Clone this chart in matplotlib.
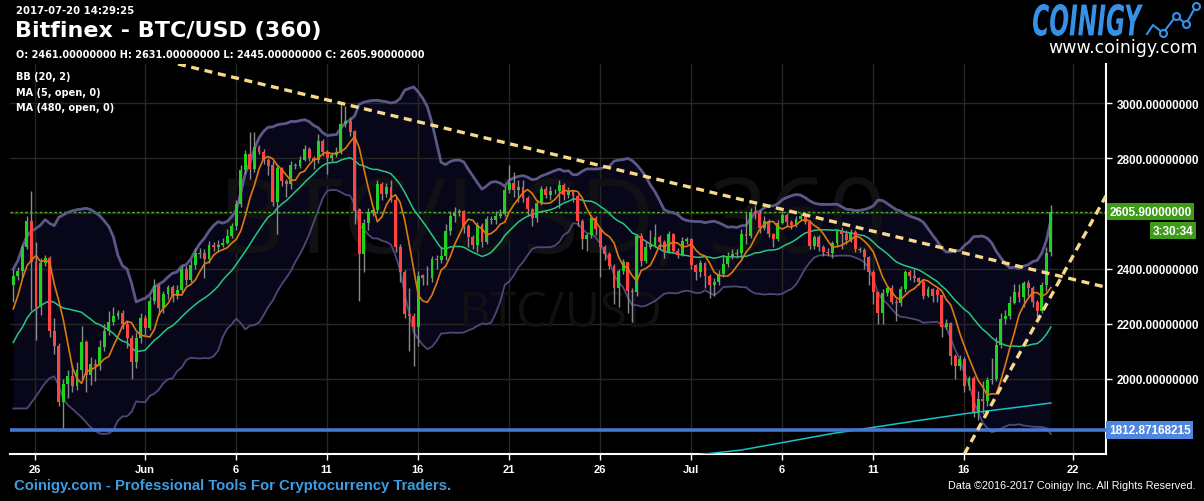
# -*- coding: utf-8 -*-

import matplotlib
matplotlib.use('Agg')
import matplotlib.pyplot as plt
import matplotlib.dates as mdates
import matplotlib.transforms as mtransforms
from matplotlib.textpath import TextPath
from matplotlib.patches import PathPatch
from matplotlib.font_manager import FontProperties
from matplotlib.lines import Line2D
import numpy as np
import pandas as pd

# 6h candles, BTC/USD Bitfinex
opens = [
    2340, 2374, 2391, 2477, 2571, 2422, 2261, 2420, 2438, 2174,
    2119, 1916, 1980, 2010, 1974, 2030, 2131, 2013, 2053, 2044,
    2116, 2174, 2204, 2228, 2237, 2198, 2146, 2061, 2146, 2219,
    2182, 2282, 2338, 2256, 2307, 2331, 2299, 2322, 2400, 2358,
    2414, 2452, 2458, 2435, 2484, 2478, 2486, 2494, 2519, 2553,
    2634, 2758, 2816, 2760, 2840, 2825, 2796, 2776, 2640, 2764,
    2719, 2707, 2776, 2772, 2796, 2834, 2800, 2795, 2864, 2824,
    2800, 2812, 2824, 2925, 2937, 2901, 2616, 2452, 2565, 2604,
    2613, 2707, 2670, 2698, 2650, 2477, 2388, 2234, 2226, 2186,
    2376, 2364, 2365, 2434, 2432, 2446, 2537, 2592, 2604, 2608,
    2556, 2515, 2486, 2559, 2497, 2580, 2576, 2592, 2598, 2685,
    2711, 2685, 2697, 2658, 2616, 2582, 2637, 2689, 2667, 2680,
    2682, 2705, 2669, 2680, 2663, 2573, 2507, 2520, 2585, 2543,
    2477, 2453, 2410, 2328, 2390, 2422, 2319, 2316, 2517, 2428,
    2480, 2485, 2513, 2497, 2461, 2525, 2465, 2449, 2500, 2507,
    2413, 2388, 2420, 2374, 2340, 2352, 2380, 2416, 2444, 2452,
    2456, 2525, 2519, 2606, 2603, 2549, 2572, 2525, 2507, 2564,
    2594, 2568, 2558, 2580, 2590, 2568, 2483, 2513, 2477, 2459,
    2456, 2493, 2537, 2525, 2503, 2531, 2471, 2468, 2441, 2386,
    2313, 2240, 2311, 2328, 2279, 2273, 2325, 2386, 2372, 2364,
    2352, 2299, 2325, 2321, 2302, 2188, 2202, 2081, 2044, 2071,
    1974, 2001, 1879, 1927, 1919, 1996, 1998, 2122, 2216, 2228,
    2275, 2313, 2295, 2347, 2328, 2279, 2247, 2340, 2461,
]
highs = [
    2398, 2405, 2490, 2590, 2683, 2495, 2440, 2450, 2445, 2220,
    2130, 2000, 2030, 2050, 2060, 2190, 2140, 2080, 2070, 2140,
    2200, 2246, 2260, 2250, 2250, 2210, 2160, 2170, 2240, 2230,
    2300, 2362, 2345, 2320, 2340, 2340, 2340, 2410, 2410, 2430,
    2475, 2475, 2470, 2500, 2495, 2505, 2510, 2545, 2565, 2650,
    2776, 2830, 2897, 2895, 2850, 2835, 2800, 2790, 2780, 2770,
    2725, 2790, 2785, 2810, 2850, 2840, 2810, 2890, 2870, 2830,
    2825, 2840, 2998, 2990, 2950, 2905, 2620, 2580, 2620, 2625,
    2720, 2715, 2710, 2720, 2660, 2490, 2395, 2330, 2240, 2390,
    2380, 2410, 2445, 2450, 2480, 2560, 2610, 2625, 2618, 2612,
    2560, 2520, 2570, 2565, 2590, 2590, 2610, 2615, 2700, 2776,
    2750, 2720, 2720, 2665, 2620, 2650, 2700, 2700, 2700, 2690,
    2720, 2712, 2695, 2685, 2670, 2580, 2530, 2595, 2590, 2550,
    2485, 2460, 2415, 2400, 2435, 2425, 2330, 2525, 2530, 2500,
    2540, 2562, 2520, 2505, 2535, 2530, 2475, 2515, 2515, 2512,
    2415, 2430, 2425, 2380, 2365, 2395, 2450, 2460, 2470, 2470,
    2545, 2600, 2620, 2630, 2612, 2590, 2580, 2530, 2575, 2610,
    2600, 2575, 2590, 2600, 2600, 2575, 2520, 2520, 2485, 2475,
    2500, 2545, 2550, 2540, 2545, 2540, 2480, 2475, 2445, 2395,
    2320, 2325, 2335, 2340, 2290, 2335, 2395, 2395, 2400, 2370,
    2360, 2335, 2330, 2330, 2305, 2215, 2205, 2090, 2085, 2080,
    2010, 2010, 1955, 1990, 2005, 2075, 2150, 2240, 2250, 2300,
    2345, 2345, 2355, 2360, 2335, 2285, 2350, 2480, 2631,
]
lows = [
    2277, 2360, 2370, 2470, 2250, 2140, 2230, 2410, 2150, 2090,
    1900, 1813, 1930, 1950, 1960, 2000, 1950, 1975, 1990, 2030,
    2100, 2160, 2195, 2215, 2180, 2110, 2000, 2040, 2130, 2160,
    2175, 2270, 2230, 2240, 2290, 2280, 2290, 2310, 2340, 2350,
    2400, 2440, 2365, 2420, 2465, 2460, 2480, 2490, 2510, 2540,
    2625, 2745, 2725, 2750, 2815, 2780, 2740, 2628, 2525, 2700,
    2659, 2690, 2760, 2765, 2790, 2790, 2760, 2785, 2810, 2743,
    2790, 2805, 2815, 2915, 2880, 2560, 2283, 2388, 2540, 2590,
    2600, 2650, 2660, 2640, 2460, 2350, 2220, 2100, 2046, 2120,
    2340, 2340, 2350, 2400, 2420, 2430, 2520, 2570, 2590, 2530,
    2480, 2470, 2460, 2480, 2490, 2560, 2560, 2585, 2590, 2675,
    2660, 2640, 2640, 2590, 2555, 2570, 2630, 2655, 2650, 2670,
    2620, 2650, 2655, 2640, 2555, 2471, 2465, 2510, 2520, 2368,
    2430, 2400, 2270, 2259, 2380, 2240, 2207, 2300, 2410, 2420,
    2470, 2480, 2470, 2440, 2455, 2455, 2440, 2445, 2490, 2400,
    2360, 2370, 2330, 2291, 2300, 2340, 2370, 2405, 2435, 2440,
    2440, 2490, 2510, 2580, 2530, 2540, 2515, 2480, 2500, 2560,
    2555, 2545, 2550, 2575, 2560, 2470, 2470, 2465, 2445, 2445,
    2440, 2480, 2470, 2490, 2495, 2460, 2460, 2400, 2340, 2270,
    2200, 2200, 2300, 2270, 2210, 2265, 2315, 2360, 2350, 2340,
    2290, 2295, 2280, 2280, 2150, 2180, 2050, 2000, 2030, 1950,
    1960, 1860, 1850, 1870, 1900, 1980, 1990, 2110, 2200, 2215,
    2270, 2280, 2260, 2300, 2260, 2225, 2240, 2320, 2445,
]
closes = [
    2374, 2391, 2477, 2571, 2422, 2261, 2420, 2438, 2174, 2119,
    1916, 1980, 2010, 1974, 2030, 2131, 2013, 2053, 2044, 2116,
    2174, 2204, 2228, 2237, 2198, 2146, 2061, 2146, 2219, 2182,
    2282, 2338, 2256, 2307, 2331, 2299, 2322, 2400, 2358, 2414,
    2456, 2458, 2435, 2484, 2478, 2486, 2494, 2519, 2553, 2634,
    2758, 2816, 2760, 2840, 2825, 2796, 2773, 2640, 2764, 2719,
    2707, 2776, 2772, 2796, 2834, 2800, 2795, 2864, 2824, 2800,
    2812, 2824, 2925, 2937, 2897, 2610, 2452, 2565, 2604, 2613,
    2707, 2670, 2698, 2650, 2477, 2388, 2234, 2226, 2186, 2374,
    2364, 2365, 2434, 2432, 2446, 2537, 2592, 2604, 2608, 2556,
    2515, 2486, 2559, 2497, 2580, 2576, 2592, 2598, 2685, 2711,
    2685, 2697, 2658, 2616, 2582, 2637, 2689, 2667, 2680, 2682,
    2705, 2669, 2680, 2663, 2573, 2507, 2520, 2585, 2543, 2477,
    2453, 2410, 2328, 2390, 2422, 2319, 2316, 2517, 2428, 2480,
    2485, 2513, 2497, 2461, 2525, 2465, 2449, 2500, 2507, 2413,
    2388, 2420, 2374, 2340, 2352, 2380, 2416, 2444, 2452, 2456,
    2525, 2519, 2606, 2603, 2549, 2572, 2525, 2507, 2564, 2594,
    2568, 2558, 2580, 2590, 2568, 2483, 2513, 2477, 2459, 2456,
    2493, 2537, 2525, 2503, 2531, 2471, 2468, 2441, 2386, 2313,
    2240, 2311, 2328, 2279, 2273, 2325, 2386, 2372, 2364, 2352,
    2299, 2325, 2299, 2302, 2188, 2202, 2081, 2044, 2071, 1974,
    2001, 1879, 1927, 1919, 1996, 1998, 2122, 2216, 2228, 2275,
    2313, 2295, 2347, 2328, 2279, 2247, 2340, 2456, 2605.9,
]

# indicator values before a full window exists
bb_upper_head = [2398, 2428, 2477, 2518, 2536, 2546, 2558, 2578, 2564, 2556,
                 2586, 2595, 2604, 2610, 2614, 2616, 2619, 2614, 2604]
bb_mid_head = [2131, 2162, 2186, 2219, 2241, 2253, 2265, 2275, 2282, 2277,
               2265, 2256, 2253, 2249, 2245, 2241, 2228, 2216, 2202]
bb_lower_head = [1891, 1891, 1891, 1891, 1913, 1935, 1960, 1984, 2001, 2008,
                 1974, 1925, 1903, 1889, 1874, 1859, 1841, 1822, 1810]
ma5_head = [2253, 2301, 2362, 2410]

# MA(480) only shows at the lower right
ma480_idx = [150, 160, 170, 180, 190, 200, 210, 220, 228]
ma480_vals = [1722, 1740, 1770, 1800, 1825, 1850, 1874, 1894, 1911]

support_level = 1812.87168215
trend_down = [("2017-06-02 18:00", 3145), ("2017-07-23 18:00", 2333)]
trend_up = [("2017-07-18 00:00", 1962), ("2017-07-23 16:00", 2646)]

tick_dates = ["2017-05-26", "2017-06-01", "2017-06-06", "2017-06-11", "2017-06-16",
              "2017-06-21", "2017-06-26", "2017-07-01", "2017-07-06", "2017-07-11",
              "2017-07-16", "2017-07-22"]
tick_labels = ["26", "Jun", "6", "11", "16", "21", "26", "Jul", "6", "11", "16", "22"]
price_ticks = [2000, 2200, 2400, 2600, 2800, 3000]

W, H = 1204, 502
BG = 'black'

times = pd.date_range("2017-05-24 19:00", periods=len(closes), freq="6h")
x = mdates.date2num(times.to_pydatetime())
o = np.array(opens, float)
h = np.array(highs, float)
l = np.array(lows, float)
c = np.array(closes, float)

cs = pd.Series(c)
mid = cs.rolling(20).mean()
sd = cs.rolling(20).std(ddof=0)
upper = (mid + 2 * sd).values
lower = (mid - 2 * sd).values
mid = mid.values
n0 = len(bb_mid_head)
upper[:n0] = bb_upper_head
mid[:n0] = bb_mid_head
lower[:n0] = bb_lower_head
ma5 = pd.Series(o).rolling(5).mean().values
ma5[:len(ma5_head)] = ma5_head

fig = plt.figure(figsize=(W / 100, H / 100), dpi=100, facecolor=BG)
ax = fig.add_axes([10 / W, 1 - 455 / H, 1096 / W, 390 / H])
ax.set_facecolor(BG)

# band + watermark
ax.fill_between(x, lower, upper, color='#070719', lw=0, zorder=0.2)
ax.text(0.495, 0.587, "BTC/USD, 360", transform=ax.transAxes, ha='center', va='center',
        fontsize=75, family='Open Sans', color='#111115', zorder=0.6)
ax.text(0.502, 0.362, "BTC/USD", transform=ax.transAxes, ha='center', va='center',
        fontsize=35, family='Open Sans', color='#111115', zorder=0.6)

ax.plot(x, upper, color='#5c5789', lw=2, zorder=2)
ax.plot(x, lower, color='#4d4878', lw=1.3, zorder=2)
ax.plot(x, mid, color='#27c77e', lw=1.1, zorder=2)

# candles
up = c >= o
colors = np.where(up, '#1fd21f', '#ff4343')
ax.vlines(x, l, h, color='#8a8a8a', lw=1, zorder=2.5)
ax.bar(x, np.maximum(np.abs(c - o), 3), bottom=np.minimum(o, c), width=0.25 * 0.64,
       color=colors, lw=0, zorder=3)

ax.plot(x, ma5, color='#dd7a0e', lw=1.2, zorder=4)
ax.plot(x[ma480_idx], ma480_vals, color='#17c3c8', lw=1.1, zorder=4)

# levels and trend lines
ax.axhline(support_level, color='#4577d2', lw=2.6, zorder=4)
ax.axhline(c[-1], color='#4caf1f', lw=1, ls=(0, (2, 1.5)), zorder=1)
for line in (trend_down, trend_up):
    p1 = (mdates.date2num(pd.Timestamp(line[0][0])), line[0][1])
    p2 = (mdates.date2num(pd.Timestamp(line[1][0])), line[1][1])
    ax.axline(p1, p2, color='#f7d98e', lw=2.4, ls=(0, (2.4, 1.7)), zorder=5)

ax.set_xlim(mdates.date2num(pd.Timestamp("2017-05-24 14:40")),
            mdates.date2num(pd.Timestamp("2017-07-23 19:40")))
ax.set_ylim(1725.5, 3143.6)

ax.set_xticks(mdates.date2num(pd.to_datetime(tick_dates).to_pydatetime()))
ax.set_xticklabels(tick_labels)
ax.set_yticks(price_ticks)
# the 2600 label sits under the last-price box
ax.set_yticklabels(["" if v == 2600 else f"{v:.8f}" for v in price_ticks])
ax.yaxis.tick_right()
ax.tick_params(axis='both', colors='white', length=4, width=1, labelsize=8)
ax.tick_params(axis='y', pad=4, labelsize=8.5)
ax.tick_params(axis='x', pad=3)
for lab in ax.get_xticklabels() + ax.get_yticklabels():
    lab.set_fontfamily('Liberation Sans')
    lab.set_fontweight('bold')
ax.set_axisbelow(True)
ax.grid(color='#262626', lw=1)
for side in ('left', 'top'):
    ax.spines[side].set_visible(False)
for side in ('right', 'bottom'):
    ax.spines[side].set_color('white')
    ax.spines[side].set_linewidth(1.5)

lab_kw = dict(fontsize=8.5, color='white', fontweight='bold', family='Liberation Sans',
              va='center', xycoords=('axes fraction', 'data'), textcoords='offset points',
              annotation_clip=False, zorder=10)
ax.annotate(f"{c[-1]:.8f}", xy=(1, c[-1]), xytext=(2.6, 0), ha='left',
            bbox=dict(boxstyle='square,pad=0.22', fc='#3d9b18', ec='none'), **lab_kw)
ax.annotate("3:30:34", xy=(1, c[-1]), xytext=(63, -13.5), ha='right',
            bbox=dict(boxstyle='square,pad=0.22', fc='#3d9b18', ec='none'), **lab_kw)
ax.annotate(f"{support_level:.8f}", xy=(1, support_level), xytext=(2.0, 0), ha='left',
            bbox=dict(boxstyle='square,pad=0.22', fc='#4f86e0', ec='none'), **lab_kw)


def ftext(px, py, s, **kw):
    fig.text(px / W, 1 - py / H, s, **kw)


hdr = dict(color='white', fontweight='bold', family='DejaVu Sans', va='center')
ftext(16, 11, "2017-07-20 14:29:25", fontsize=7.3, **hdr)
ftext(15, 31, "Bitfinex - BTC/USD (360)", fontsize=16, **hdr)
ftext(16, 55, "O: 2461.00000000 H: 2631.00000000 L: 2445.00000000 C: 2605.90000000",
      fontsize=7, **hdr)
for i, s in enumerate(["BB (20, 2)", "MA (5, open, 0)", "MA (480, open, 0)"]):
    ftext(16, 77 + 15.5 * i, s, fontsize=7, **hdr)

ftext(14, 486, "Coinigy.com - Professional Tools For Cryptocurrency Traders.",
      fontsize=10.7, color='#3d9de3', fontweight='bold', family='Liberation Sans', va='center')
ftext(1196, 486, "Data \u00a92016-2017 Coinigy Inc. All Rights Reserved.",
      fontsize=7.8, color='white', family='Liberation Sans', va='center', ha='right')


def fit_text(s, box, prop, color):
    # stretch a text path into a pixel box (x0, y0 top, x1, y1 bottom)
    x0, y0, x1, y1 = box
    tp = TextPath((0, 0), s, size=10, prop=prop)
    bb = tp.get_extents()
    tr = (mtransforms.Affine2D().translate(-bb.x0, -bb.y0)
          .scale((x1 - x0) / bb.width, (y1 - y0) / bb.height)
          .translate(x0, H - y1))
    fig.add_artist(PathPatch(tp, transform=tr, fc=color, ec='none'))


fit_text("COINIGY", (1033, 5, 1143, 37),
         FontProperties(family='DejaVu Sans', weight='bold', style='italic'), '#3692e8')
ftext(1198, 48, "www.coinigy.com", fontsize=12.5, color='white', family='DejaVu Sans',
      ha='right', va='center')
logo_x = [1147, 1153, 1163, 1176, 1186, 1196]
logo_y = [35, 26, 34, 17, 25, 7]
fig.add_artist(Line2D(logo_x, [H - v for v in logo_y], transform=mtransforms.IdentityTransform(),
                      color='#3692e8', lw=1.5))
fig.add_artist(Line2D(logo_x[2:], [H - v for v in logo_y[2:]],
                      transform=mtransforms.IdentityTransform(), ls='none', marker='o',
                      ms=5, mfc='black', mec='#3692e8', mew=1.5))

fig.savefig('out.png', dpi=100, facecolor=BG)
